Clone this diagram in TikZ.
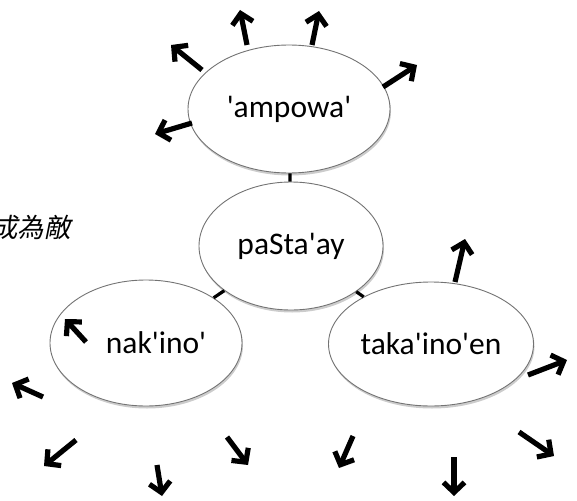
\documentclass[tikz,border=0pt]{standalone}
\usepackage{fontspec}
\setmainfont{Carlito}[Ligatures=TeXOff]
\newfontfamily\cjkfont[FakeSlant=0.2]{Noto Sans CJK TC}
\usetikzlibrary{arrows.meta,shapes.geometric,shadows}
\tikzset{
  bubble/.style={ellipse, draw=black!55, line width=0.9pt, fill=white, inner sep=0pt,
    drop shadow={opacity=0.4, shadow xshift=1pt, shadow yshift=-2.5pt},
    font=\fontsize{31.5}{34}\selectfont},
  link/.style={line width=3.2pt, black},
  arr/.style={line width=5.2pt, -{Straight Barb[length=10pt,width=21pt]}},
}
\begin{document}
\begin{tikzpicture}[x=1pt,y=-1pt]
\useasboundingbox (0,0) rectangle (577,500);
% nodes
\node[bubble, minimum width=202pt, minimum height=128pt] (amp) at (289,109) {'ampowa'};
\node[bubble, minimum width=184pt, minimum height=128pt] (pas) at (291,246) {paSta'ay};
\node[bubble, minimum width=192pt, minimum height=126pt] (nak) at (146,343) {\hspace*{20pt}nak'ino'};
\node[bubble, minimum width=205pt, minimum height=124pt] (tak) at (431,344) {taka'ino'en};
% connectors between bubbles
\draw[link] (amp) -- (pas);
\draw[link] (pas) -- (nak);
\draw[link] (pas) -- (tak);
% text
\node[anchor=west, inner sep=0pt, font=\cjkfont\fontsize{26.5}{29}\selectfont] (cjk) at (-9,228) {成為敵};
% arrow coordinates
\coordinate (t1) at (247,45);  \coordinate (h1) at (240,10);
\coordinate (t2) at (312,45);  \coordinate (h2) at (319,11);
\coordinate (t3) at (202,70);  \coordinate (h3) at (171,45);
\coordinate (t4) at (383,87);  \coordinate (h4) at (417,65);
\coordinate (t5) at (192,123); \coordinate (h5) at (155,134);
\coordinate (t6) at (455,282); \coordinate (h6) at (465,239);
\coordinate (t7) at (86,342);  \coordinate (h7) at (65,319);
\coordinate (t8) at (43,397);  \coordinate (h8) at (12,383);
\coordinate (t9) at (76,440);  \coordinate (h9) at (44,466);
\coordinate (t10) at (157,465); \coordinate (h10) at (162,496);
\coordinate (t11) at (227,437); \coordinate (h11) at (248,465);
\coordinate (t12) at (353,436); \coordinate (h12) at (339,468);
\coordinate (t13) at (454,457); \coordinate (h13) at (454,496);
\coordinate (t14) at (519,432); \coordinate (h14) at (554,456);
\coordinate (t15) at (528,375); \coordinate (h15) at (567,360);
\foreach \i in {1,...,15} { \draw[arr] (t\i) -- (h\i); }
\end{tikzpicture}
\end{document}
